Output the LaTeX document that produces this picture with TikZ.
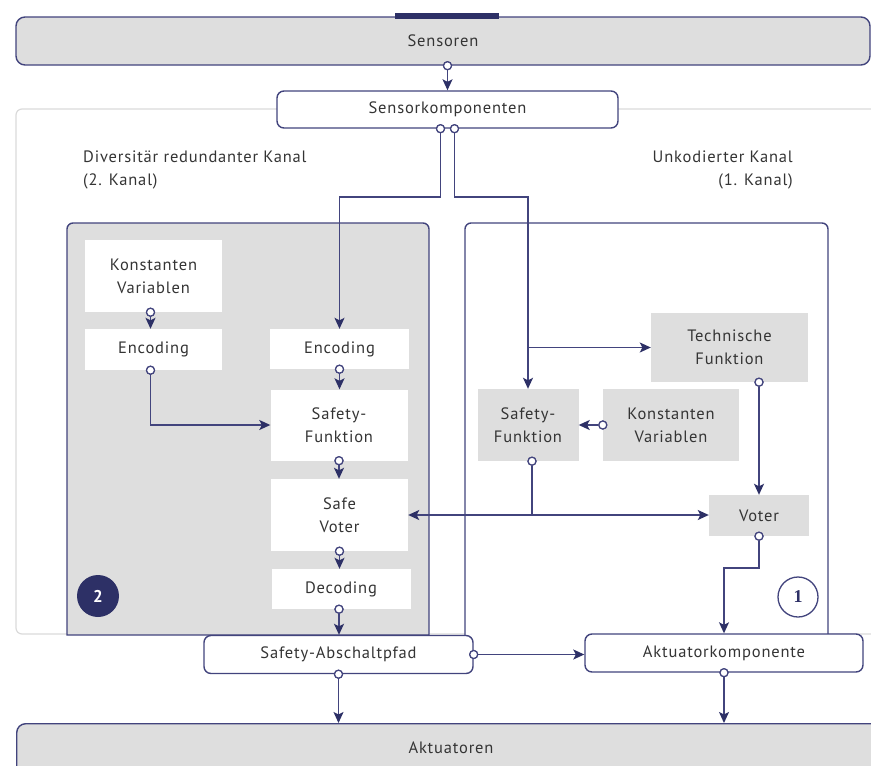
\documentclass[tikz,border=0pt]{standalone}
\usepackage{fontspec}
\setmainfont[LetterSpace=5]{PT Sans}
\newfontfamily\badgeserif{Liberation Serif}
\usetikzlibrary{arrows.meta,calc}
\definecolor{navy}{RGB}{66,68,125}
\definecolor{navydark}{RGB}{45,48,102}
\definecolor{boxgray}{RGB}{222,222,222}
\definecolor{framegray}{RGB}{218,218,218}
\definecolor{txt}{RGB}{52,52,52}
\begin{document}
\begin{tikzpicture}[x=1pt,y=-1pt,
  font=\fontsize{16.5}{23}\selectfont,
  every node/.style={inner sep=0pt, align=center, text=txt},
  wbox/.style={rectangle, fill=white},
  gbox/.style={rectangle, fill=boxgray},
  rbox/.style={rectangle, rounded corners=7, fill=white, draw=navy, line width=1.4pt},
  chan/.style={draw=navy, line width=1.4pt},
  conn/.style={draw=navy, line width=1.4pt, -{Stealth[length=11pt,width=10pt,inset=2.5pt,color=navydark]}},
  line/.style={draw=navy, line width=1.4pt},
  dot/.style={circle, draw=navy, fill=white, line width=1.2pt, minimum size=8pt, inner sep=0pt}
]
\useasboundingbox (0,0) rectangle (871,766);

% outer light frame
\draw[framegray, line width=1.2pt, rounded corners=6] (890,109) -- (16,109) -- (16,634) -- (890,634);

% Sensoren / Aktuatoren bands
\node[gbox, rounded corners=9, draw=navy, line width=1.4pt, minimum width=854, minimum height=48] (sensoren) at (443,41) {Sensoren};
\fill[navydark] (395,13) rectangle (499,18.5);
\node[gbox, rounded corners=9, draw=navy, line width=1.4pt, minimum width=880, minimum height=90, anchor=north west] (aktbox) at (16,723) {};
\node (aktuatoren) at (451,748) {Aktuatoren};

% Sensorkomponenten
\node[rbox, minimum width=341, minimum height=37] (skomp) at (447.5,109.5) {Sensorkomponenten};

% channel labels
\node[anchor=west, align=left] (lab2) at (83,170) {Diversitär redundanter Kanal\\(2. Kanal)};
\node[anchor=east, align=right] (lab1) at (793,170) {Unkodierter Kanal\\(1. Kanal)};

% channel containers
\draw[chan, fill=boxgray] (67,635) [rounded corners=6] -- (67,223) -- (429,223) [sharp corners] -- (429,635) -- cycle;
\draw[chan, fill=white] (465,635) [rounded corners=6] -- (465,223) -- (828,223) [sharp corners] -- (828,635);

% channel 2 boxes
\node[wbox, minimum width=137, minimum height=72] (kv2) at (153.5,276) {Konstanten\\Variablen};
\node[wbox, minimum width=137, minimum height=41] (enc2a) at (153.5,349.5) {Encoding};
\node[wbox, minimum width=139, minimum height=40] (enc2b) at (339.5,349) {Encoding};
\node[wbox, minimum width=137, minimum height=71] (sf2) at (339,425) {Safety-\\Funktion};
\node[wbox, minimum width=137, minimum height=72] (sv) at (339.5,515) {Safe\\Voter};
\node[wbox, minimum width=139, minimum height=40] (dec) at (341,589) {Decoding};

% channel 1 boxes
\node[gbox, minimum width=157, minimum height=69] (tf) at (729.5,347.5) {Technische\\Funktion};
\node[gbox, minimum width=101, minimum height=72] (sf1) at (528,425) {Safety-\\Funktion};
\node[gbox, minimum width=136, minimum height=72] (kv1) at (671,425) {Konstanten\\Variablen};
\node[gbox, minimum width=100, minimum height=41] (voter) at (759,515.5) {Voter};

% badges
\node[circle, fill=navydark, minimum size=42pt, text=white, font=\bfseries\fontsize{17}{17}\selectfont] (b2) at (98,596) {2};
\node[circle, draw=navy, line width=1.3pt, fill=white, minimum size=40pt, text=navydark, font=\badgeserif\bfseries\fontsize{18}{18}\selectfont] (b1) at (798,597) {1};

% bottom boxes
\node[rbox, minimum width=269, minimum height=38] (sap) at (338.5,654.5) {Safety-Abschaltpfad};
\node[rbox, minimum width=278, minimum height=38] (ak) at (724,653) {Aktuatorkomponente};

% junction coordinates
\coordinate (j1) at (0,197);
\coordinate (jk) at (0,568);

% dots
\node[dot] (ds) at (skomp.north |- sensoren.south) {};
\node[dot] (dA) at ([xshift=-7pt]skomp.south) {};
\node[dot] (dB) at ([xshift=7pt]skomp.south) {};
\node[dot] (dkv2) at ([xshift=-3pt]kv2.south) {};
\node[dot] (denc2a) at ([xshift=-3pt]enc2a.south) {};
\node[dot] (denc2b) at (enc2b.south) {};
\node[dot] (dsf2) at (sf2.south) {};
\node[dot] (dsv) at (sv.south) {};
\node[dot] (ddec) at ([xshift=-2pt]dec.south) {};
\node[dot] (dkv1) at (kv1.west) {};
\node[dot] (dtf) at (voter.north |- tf.south) {};
\node[dot] (dsf1) at ([xshift=4pt]sf1.south) {};
\node[dot] (dvoter) at (voter.south) {};
\node[dot] (dsape) at (sap.east) {};
\node[dot] (dsaps) at (sap.south) {};
\node[dot] (daks) at (ak.south) {};

\coordinate (jv) at (dsf1 |- sv.east);

% connectors
\draw[conn] (ds) -- (skomp.north);
\draw[conn] (dA) -- (dA |- j1) -- (enc2b.north |- j1) -- (enc2b.north);
\draw[conn] (dB) -- (dB |- j1) -- (sf1.north |- j1) -- (sf1.north);
\draw[conn] (sf1.north |- tf.west) -- (tf.west);
\draw[conn] (dkv2) -- (dkv2 |- enc2a.north);
\draw[conn] (denc2a) |- (sf2.west);
\draw[conn] (denc2b) -- (denc2b |- sf2.north);
\draw[conn] (dsf2) -- (dsf2 |- sv.north);
\draw[conn] (dsv) -- (dsv |- dec.north);
\draw[conn] (ddec) -- (ddec |- sap.north);
\draw[conn] (dkv1) -- (sf1.east);
\draw[conn] (dtf) -- (voter.north);
\draw[line] (dsf1) -- (jv);
\draw[conn] (jv) -- (sv.east);
\draw[conn] (jv) -- (voter.west |- jv);
\draw[conn] (dvoter) -- (dvoter |- jk) -- (ak.north |- jk) -- (ak.north);
\draw[conn] (dsape) -- (ak.west |- dsape);
\draw[conn] (dsaps) -- (dsaps |- aktbox.north);
\draw[conn] (daks) -- (daks |- aktbox.north);

% redraw dots on top
\foreach \d in {ds,dA,dB,dkv2,denc2a,denc2b,dsf2,dsv,ddec,dkv1,dtf,dsf1,dvoter,dsape,dsaps,daks}
  \draw[navy, fill=white, line width=1.2pt] (\d) circle (4pt);
\end{tikzpicture}
\end{document}
